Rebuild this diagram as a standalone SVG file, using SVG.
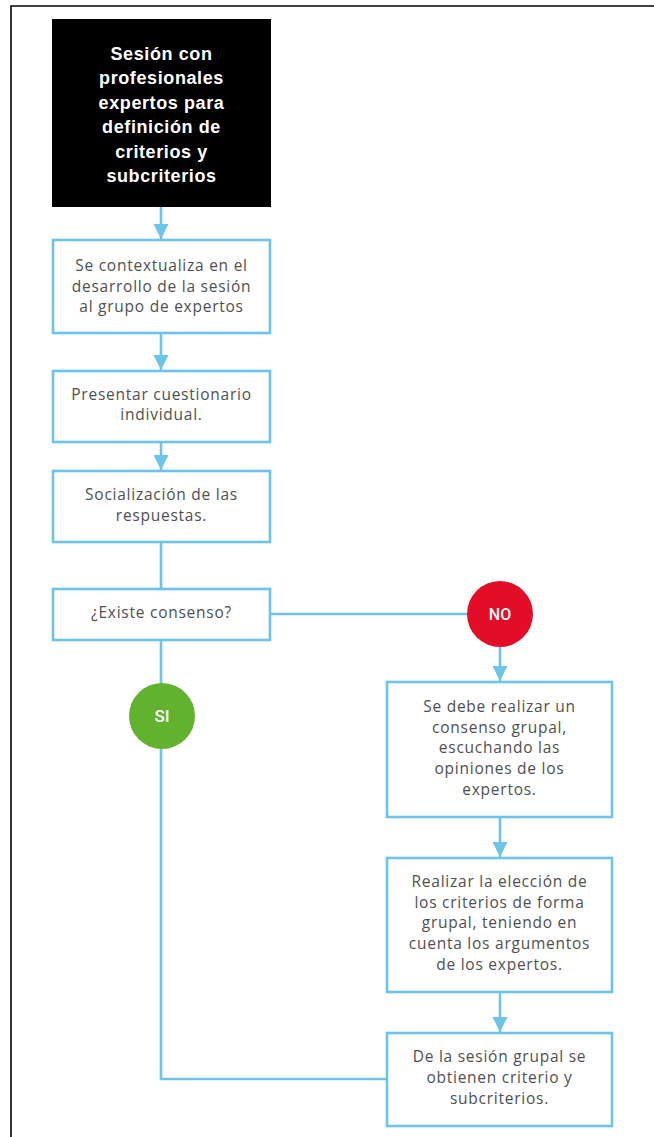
<svg xmlns="http://www.w3.org/2000/svg" width="654" height="1137" viewBox="0 0 654 1137">
<style>
.box{fill:#fff;stroke:#6cc5e9;stroke-width:2.6}
.ln{fill:none;stroke:#6cc5e9;stroke-width:2.6}
.t{font-family:"Open Sans","Noto Sans",sans-serif;font-size:15.5px;fill:#505050;text-anchor:middle;letter-spacing:0.75px}
.title{font-family:"Liberation Sans",Arial,sans-serif;font-weight:bold;font-size:18px;fill:#fff;text-anchor:middle;letter-spacing:0.6px}
.ct{font-family:Roboto,"Liberation Sans",sans-serif;font-weight:500;fill:#fff;text-anchor:middle}
</style>
<defs>
<marker id="ah" markerUnits="userSpaceOnUse" markerWidth="16" markerHeight="16" refX="15" refY="7.5" orient="auto">
<path d="M0,0 L15,7.5 L0,15 Z" fill="#6cc5e9"/>
</marker>
</defs>
<rect width="654" height="1137" fill="#fff"/>
<path d="M11,1137 V6 H654" fill="none" stroke="#000" stroke-width="1.6"/>

<g id="connectors">
<line class="ln" x1="161" y1="207" x2="161" y2="239" marker-end="url(#ah)"/>
<line class="ln" x1="161" y1="333" x2="161" y2="370" marker-end="url(#ah)"/>
<line class="ln" x1="161" y1="442" x2="161" y2="470" marker-end="url(#ah)"/>
<line class="ln" x1="161" y1="542" x2="161" y2="589"/>
<line class="ln" x1="270" y1="614" x2="470" y2="614"/>
<path class="ln" d="M161,640 V1079 H387"/>
<line class="ln" x1="500" y1="647" x2="500" y2="681" marker-end="url(#ah)"/>
<line class="ln" x1="500" y1="817" x2="500" y2="857" marker-end="url(#ah)"/>
<line class="ln" x1="500" y1="992" x2="500" y2="1032" marker-end="url(#ah)"/>
</g>

<g id="n1">
<rect x="52" y="19" width="219" height="188" fill="#000"/>
<text class="title" x="161.5" y="59.5">Sesión con</text>
<text class="title" x="161.5" y="84">profesionales</text>
<text class="title" x="161.5" y="108.5">expertos para</text>
<text class="title" x="161.5" y="133">definición de</text>
<text class="title" x="161.5" y="157.5">criterios y</text>
<text class="title" x="161.5" y="182">subcriterios</text>
</g>

<g id="n2">
<rect class="box" x="53" y="240" width="217" height="93"/>
<text class="t" x="161.5" y="271">Se contextualiza en el</text>
<text class="t" x="161.5" y="292">desarrollo de la sesión</text>
<text class="t" x="161.5" y="312">al grupo de expertos</text>
</g>

<g id="n3">
<rect class="box" x="53" y="371" width="217" height="71"/>
<text class="t" x="161.5" y="400">Presentar cuestionario</text>
<text class="t" x="161.5" y="420">individual.</text>
</g>

<g id="n4">
<rect class="box" x="53" y="471" width="217" height="71"/>
<text class="t" x="161.5" y="500">Socialización de las</text>
<text class="t" x="161.5" y="521">respuestas.</text>
</g>

<g id="n5">
<rect class="box" x="53" y="589" width="217" height="51"/>
<text class="t" x="161.5" y="618">¿Existe consenso?</text>
</g>

<g id="no">
<circle cx="500" cy="614" r="33" fill="#e30d27"/>
<text class="ct" x="500" y="620" font-size="16" font-weight="bold">NO</text>
</g>

<g id="si">
<circle cx="162" cy="716" r="33" fill="#62b22f"/>
<text class="ct" x="162" y="722" font-size="17">SI</text>
</g>

<g id="n6">
<rect class="box" x="387" y="682" width="225" height="135"/>
<text class="t" x="499.5" y="712">Se debe realizar un</text>
<text class="t" x="499.5" y="733">consenso grupal,</text>
<text class="t" x="499.5" y="753">escuchando las</text>
<text class="t" x="499.5" y="774">opiniones de los</text>
<text class="t" x="499.5" y="795">expertos.</text>
</g>

<g id="n7">
<rect class="box" x="387" y="858" width="225" height="134"/>
<text class="t" x="499.5" y="887">Realizar la elección de</text>
<text class="t" x="499.5" y="908">los criterios de forma</text>
<text class="t" x="499.5" y="928">grupal, teniendo en</text>
<text class="t" x="499.5" y="949">cuenta los argumentos</text>
<text class="t" x="499.5" y="970">de los expertos.</text>
</g>

<g id="n8">
<rect class="box" x="387" y="1033" width="225" height="93"/>
<text class="t" x="499.5" y="1062">De la sesión grupal se</text>
<text class="t" x="499.5" y="1083">obtienen criterio y</text>
<text class="t" x="499.5" y="1104">subcriterios.</text>
</g>
</svg>
